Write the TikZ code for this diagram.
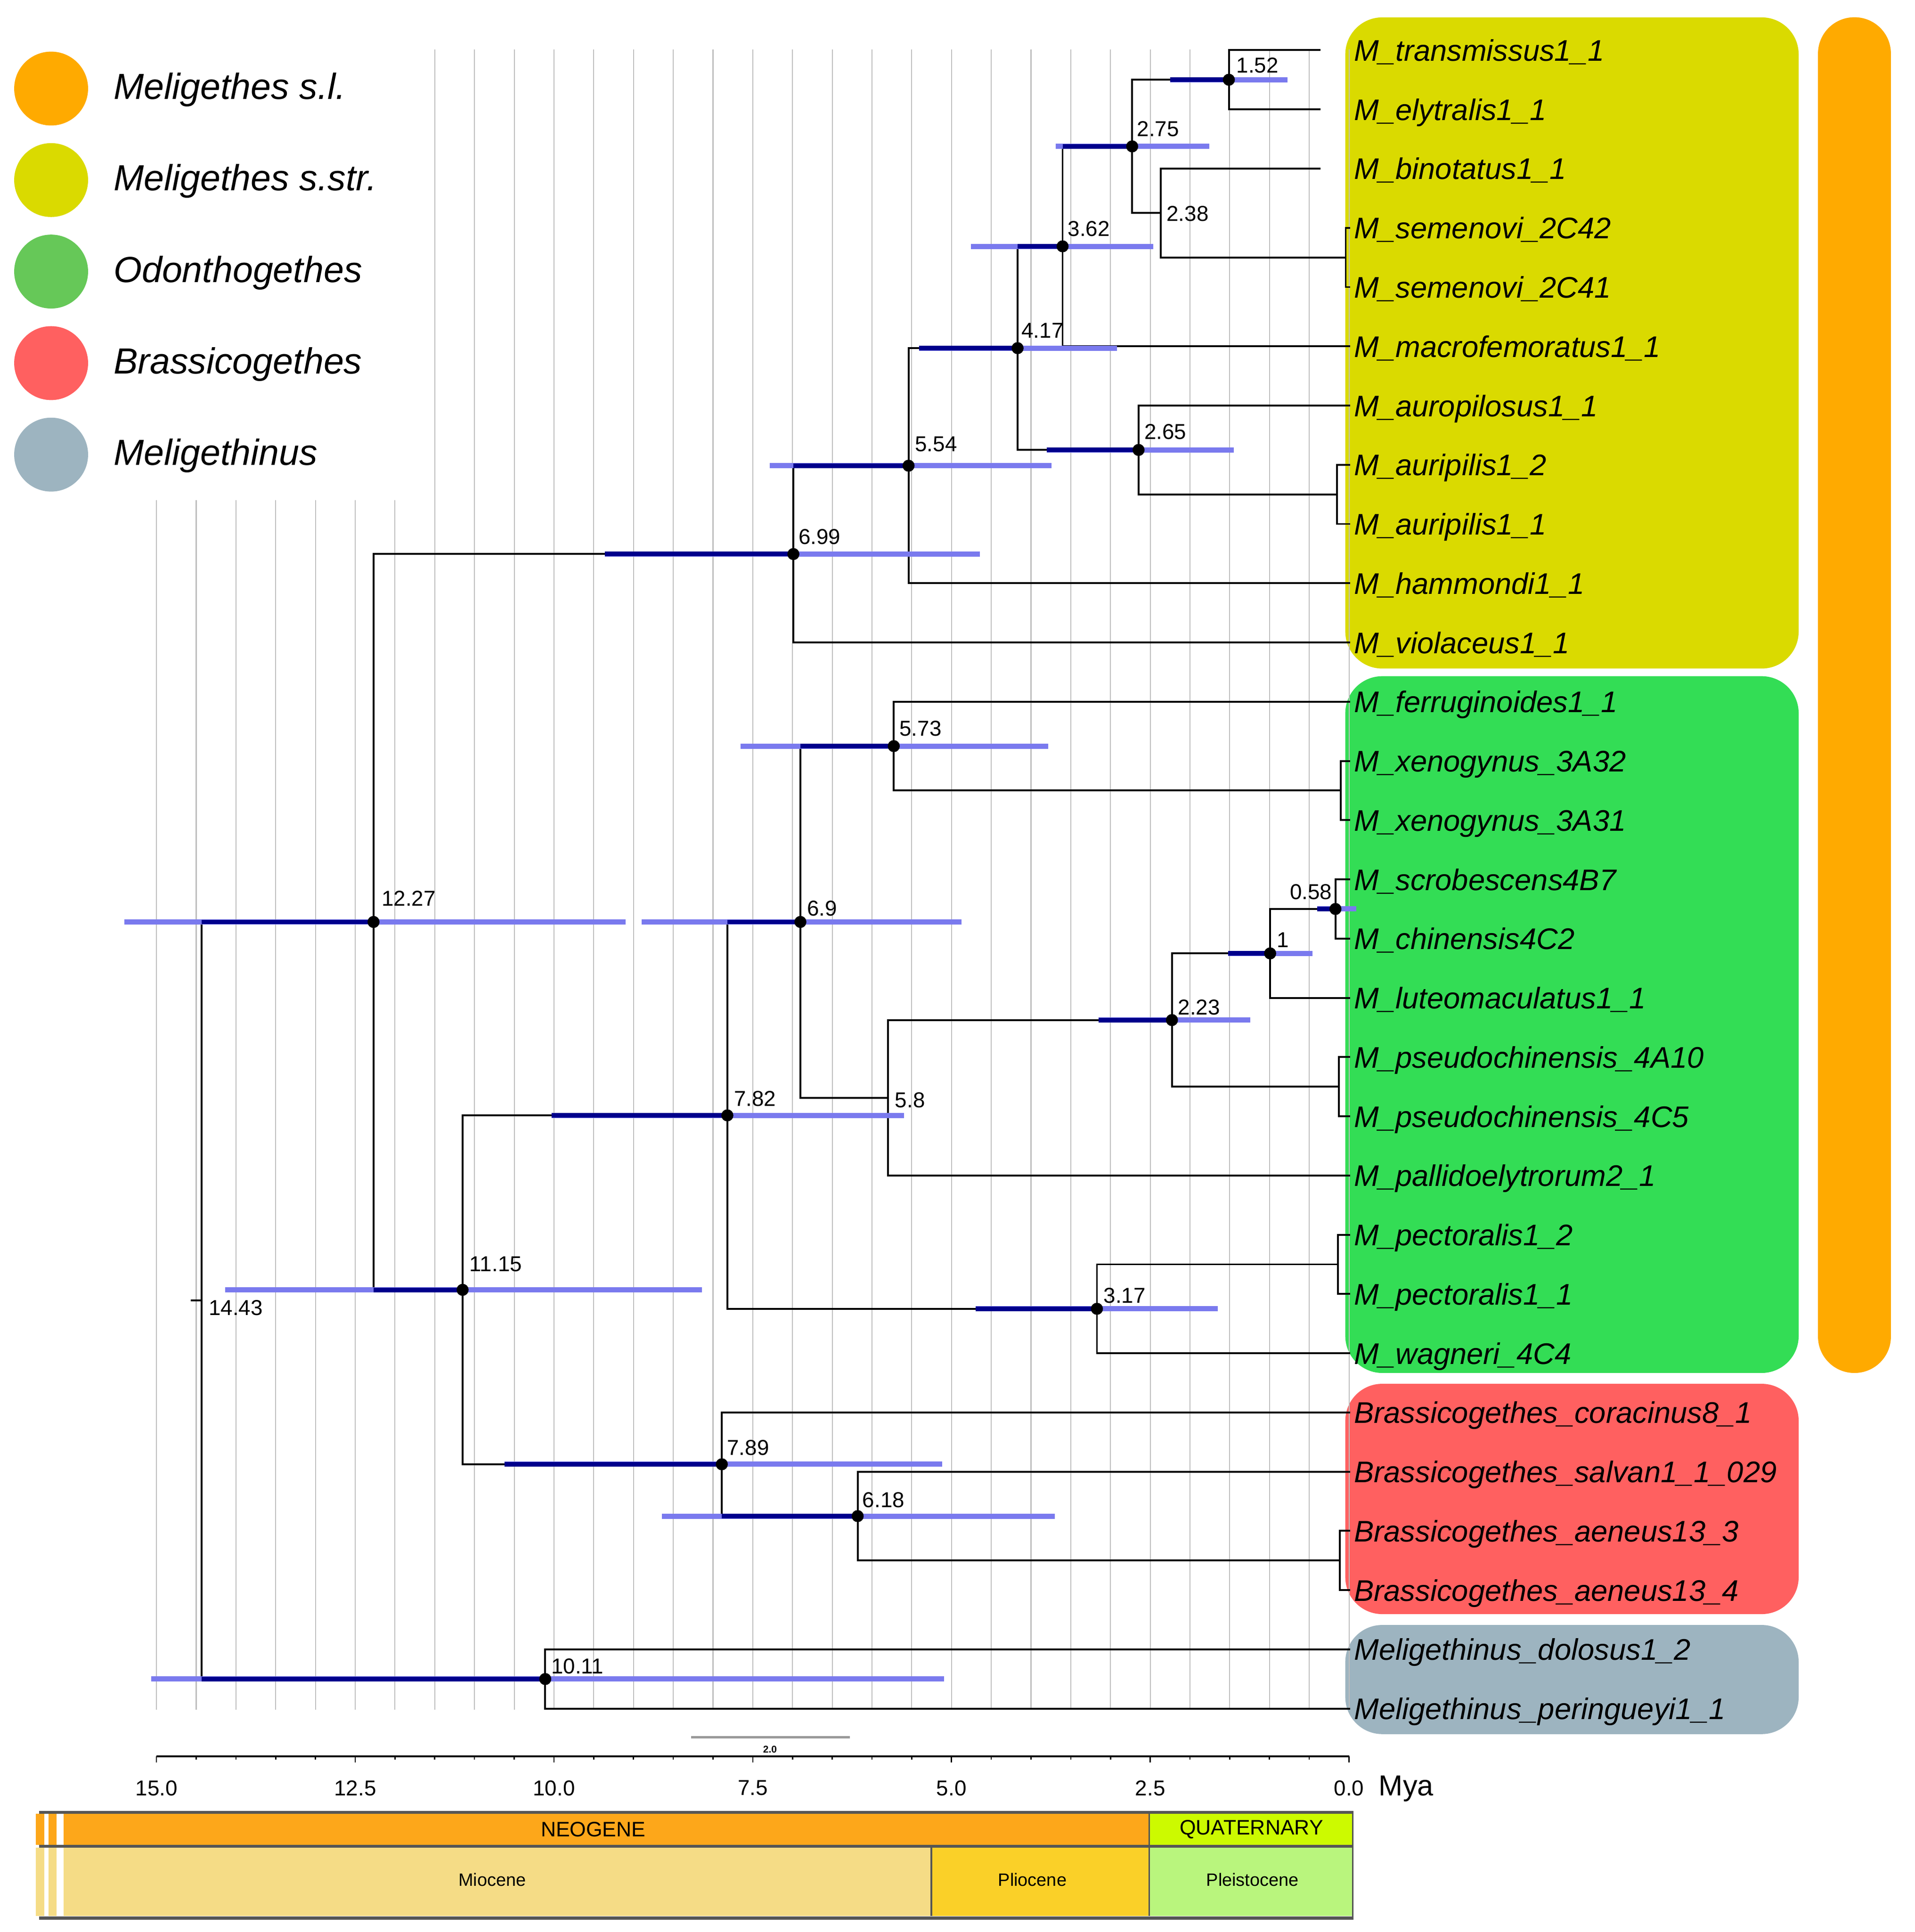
\documentclass[tikz,border=0pt]{standalone}
\usepackage{fontspec}
\setmainfont{Liberation Sans}
\definecolor{legOrange}{RGB}{255,170,0}
\definecolor{legYellow}{RGB}{218,218,0}
\definecolor{legGreen}{RGB}{102,200,88}
\definecolor{legRed}{RGB}{255,96,96}
\definecolor{legGray}{RGB}{157,180,192}
\definecolor{boxGreen}{RGB}{51,221,85}
\definecolor{hpdLight}{RGB}{122,122,238}
\definecolor{hpdDark}{RGB}{0,0,140}
\definecolor{gridGray}{RGB}{190,190,190}
\definecolor{neoC}{RGB}{253,167,26}
\definecolor{quaC}{RGB}{204,250,0}
\definecolor{mioC}{RGB}{245,220,134}
\definecolor{pliC}{RGB}{250,208,40}
\definecolor{pleC}{RGB}{185,245,125}
\definecolor{tsBorder}{RGB}{85,85,85}
\tikzset{
  branch/.style={draw=black, line width=1.5pt},
  hpd/.style={draw=hpdLight, line width=4.2pt},
  hpdin/.style={draw=hpdDark, line width=3.8pt},
  ndot/.style={circle, fill=black, inner sep=0pt, minimum size=9.8pt},
  nlab/.style={font=\fontsize{17.5}{20}\selectfont, inner sep=0pt, anchor=west},
  tiplab/.style={font=\fontsize{24.2}{28}\selectfont\itshape, inner sep=0pt, anchor=base west},
  leglab/.style={font=\fontsize{29.5}{34}\selectfont\itshape, inner sep=0pt, anchor=base west},
  gridline/.style={draw=gridGray, line width=0.8pt},
  cladebox/.style={rounded corners=30pt},
  axlab/.style={font=\fontsize{17.5}{20}\selectfont, inner sep=0pt},
  eralab/.style={font=\fontsize{17}{20}\selectfont, inner sep=0pt},
  epochlab/.style={font=\fontsize{14.5}{17}\selectfont, inner sep=0pt},
}
\begin{document}
\begin{tikzpicture}[x=1pt,y=-1pt]
\useasboundingbox (0,0) rectangle (1554.1,1568.6);
\fill[white] (0,0) rectangle (1554.1,1568.6);

% clade boxes
\fill[legYellow, cladebox] (1092,14.1) rectangle (1460,542.8);
\fill[boxGreen, cladebox] (1092,549) rectangle (1460,1114.7);
\fill[legRed, cladebox] (1092,1123.5) rectangle (1460,1310.5);
\fill[legGray, cladebox] (1092,1319.3) rectangle (1460,1407.9);
\fill[legOrange, rounded corners=29.5pt] (1475.7,14) rectangle (1534.9,1114.7);

% grid
\foreach \k in {0,...,6} {
  \draw[gridline] ({127+32.267*\k},406) -- ({127+32.267*\k},1388);
}
\foreach \k in {7,...,30} {
  \draw[gridline] ({127+32.267*\k},40) -- ({127+32.267*\k},1388);
}

% tips
\foreach \i/\nm/\xe in {
  0/M\_transmissus1\_1/1072, 1/M\_elytralis1\_1/1072, 2/M\_binotatus1\_1/1072,
  3/M\_semenovi\_2C42/1096, 4/M\_semenovi\_2C41/1096, 5/M\_macrofemoratus1\_1/1096,
  6/M\_auropilosus1\_1/1096, 7/M\_auripilis1\_2/1096, 8/M\_auripilis1\_1/1096,
  9/M\_hammondi1\_1/1096, 10/M\_violaceus1\_1/1096, 11/M\_ferruginoides1\_1/1096,
  12/M\_xenogynus\_3A32/1096, 13/M\_xenogynus\_3A31/1096, 14/M\_scrobescens4B7/1096,
  15/M\_chinensis4C2/1096, 16/M\_luteomaculatus1\_1/1096, 17/M\_pseudochinensis\_4A10/1096,
  18/M\_pseudochinensis\_4C5/1096, 19/M\_pallidoelytrorum2\_1/1096, 20/M\_pectoralis1\_2/1096,
  21/M\_pectoralis1\_1/1096, 22/M\_wagneri\_4C4/1096, 23/Brassicogethes\_coracinus8\_1/1096,
  24/Brassicogethes\_salvan1\_1\_029/1096, 25/Brassicogethes\_aeneus13\_3/1096,
  26/Brassicogethes\_aeneus13\_4/1096, 27/Meligethinus\_dolosus1\_2/1096,
  28/Meligethinus\_peringueyi1\_1/1096} {
  \pgfmathsetmacro\yy{40.7+48.09*\i}
  \coordinate (t\i) at (\xe,\yy);
  \node[tiplab] (lab\i) at (1099,\yy+8.8) {\nm};
}

% internal nodes
\coordinate (n152) at (997.5,64.75);
\coordinate (psem) at (1092.3,209.0);
\coordinate (n238) at (942.3,172.94);
\coordinate (n275) at (919,118.85);
\coordinate (n362) at (862.5,200.0);
\coordinate (paur) at (1085.2,401.38);
\coordinate (n265) at (924.2,365.31);
\coordinate (n417) at (826,282.66);
\coordinate (n554) at (737.5,378.09);
\coordinate (n699) at (644,449.85);
\coordinate (pxen) at (1088.3,641.83);
\coordinate (n573) at (725.5,605.76);
\coordinate (n058) at (1084,738.0);
\coordinate (n1) at (1031,774.07);
\coordinate (ppse) at (1086.7,882.28);
\coordinate (n223) at (951.3,828.18);
\coordinate (n58) at (720.7,891.3);
\coordinate (n69) at (649.7,748.53);
\coordinate (ppec) at (1086,1026.55);
\coordinate (n317) at (890.4,1062.6);
\coordinate (n782) at (590.4,905.57);
\coordinate (paen) at (1087.6,1267.0);
\coordinate (n618) at (696.2,1230.93);
\coordinate (n789) at (585.9,1188.85);
\coordinate (n1115) at (375.5,1047.21);
\coordinate (n1227) at (303.2,748.53);
\coordinate (n1011) at (442.6,1363.18);
\coordinate (n1443) at (163.8,1055.86);
\coordinate (root) at (155,1055.86);

% branches
\foreach \p/\c in {n152/t0, n152/t1, n275/n152, n275/n238, n238/t2, n238/psem,
  psem/t3, psem/t4, n362/n275, n362/t5, n417/n362, n417/n265, n265/t6, n265/paur,
  paur/t7, paur/t8, n554/n417, n554/t9, n699/n554, n699/t10, n1227/n699, n1227/n1115,
  n573/t11, n573/pxen, pxen/t12, pxen/t13, n058/t14, n058/t15, n1/n058, n1/t16,
  n223/n1, n223/ppse, ppse/t17, ppse/t18, n58/n223, n58/t19, n69/n573, n69/n58,
  ppec/t20, ppec/t21, n317/ppec, n317/t22, n782/n69, n782/n317, n618/t24, n618/paen,
  paen/t25, paen/t26, n789/t23, n789/n618, n1115/n782, n1115/n789, n1011/t27,
  n1011/t28, n1443/n1227, n1443/n1011} {
  \draw[branch] (\p) |- (\c);
}
\draw[branch] (root) -- (n1443);

% HPD bars: lo/hi/navy start/node x/node y
\foreach \lo/\hi/\ns/\nx/\ny in {
  950/1045/950/997.5/64.75, 857/981.7/862.5/919/118.85, 788/936/826/862.5/200.0,
  746/906.5/746/826/282.66, 849.5/1001.5/849.5/924.2/365.31, 625/853.6/644/737.5/378.09,
  491/795.5/491/644/449.85, 101/508/163.8/303.2/748.53, 182.6/569.8/303.2/375.5/1047.21,
  122.8/766.5/163.8/442.6/1363.18, 447.8/734/447.8/590.4/905.57, 521/780.5/590.4/649.7/748.53,
  601/851/649.7/725.5/605.76, 1069/1101/1069/1084/738.0, 997/1065.5/997/1031/774.07,
  891.8/1014.8/891.8/951.3/828.18, 792/988.5/792/890.4/1062.6, 409.6/764.8/409.6/585.9/1188.85,
  537.4/856.2/585.9/696.2/1230.93} {
  \draw[hpd] (\lo,\ny) -- (\hi,\ny);
  \draw[hpdin] (\ns,\ny) -- (\nx,\ny);
}

% node dots
\foreach \n in {n152,n275,n362,n417,n265,n554,n699,n1227,n573,n058,n1,n223,n69,n317,n782,n618,n789,n1115,n1011} {
  \node[ndot] (d\n) at (\n) {};
}

% node labels
\node[nlab] (l152) at (1003.5,53.2) {1.52};
\node[nlab] (l275) at (922.8,104.7) {2.75};
\node[nlab] (l238) at (946.8,173.4) {2.38};
\node[nlab] (l362) at (866.6,185.6) {3.62};
\node[nlab] (l417) at (829,268.5) {4.17};
\node[nlab] (l265) at (928.7,350.5) {2.65};
\node[nlab] (l554) at (742.6,360.7) {5.54};
\node[nlab] (l699) at (648,435.8) {6.99};
\node[nlab] (l573) at (730,591.5) {5.73};
\node[nlab, anchor=east] (l058) at (1081.4,724) {0.58};
\node[nlab] (l1) at (1036.3,763) {1};
\node[nlab] (l69) at (654.9,737.5) {6.9};
\node[nlab] (l1227) at (309.6,729.3) {12.27};
\node[nlab] (l223) at (956,818) {2.23};
\node[nlab] (l782) at (595.6,892.2) {7.82};
\node[nlab] (l58) at (726.3,893.3) {5.8};
\node[nlab] (l1115) at (381,1026.5) {11.15};
\node[nlab] (l1443) at (169.3,1062) {14.43};
\node[nlab] (l317) at (895.6,1052) {3.17};
\node[nlab] (l789) at (590,1175.3) {7.89};
\node[nlab] (l618) at (699.9,1218) {6.18};
\node[nlab] (l1011) at (447.3,1353) {10.11};

% legend
\foreach \j/\col/\txt in {0/legOrange/Meligethes s.l., 1/legYellow/Meligethes s.str.,
  2/legGreen/Odonthogethes, 3/legRed/Brassicogethes, 4/legGray/Meligethinus} {
  \pgfmathsetmacro\cy{71.9+74.3*\j}
  \fill[\col] (41.5,\cy) circle[radius=30];
  \node[leglab] (leg\j) at (92,\cy+8.6) {\txt};
}

% scale bar
\draw[gray!80, line width=1.8pt] (561,1410.5) -- (690,1410.5);
\node[font=\fontsize{8}{9}\selectfont\bfseries, inner sep=0pt] (sbl) at (625,1420.5) {2.0};

% axis
\draw[black, line width=1.5pt] (127,1426) -- (1095,1426);
\foreach \k in {0,...,30} {
  \draw[black, line width=1pt] ({127+32.267*\k},1426) -- ({127+32.267*\k},1428.5);
}
\foreach \k/\lab in {0/15.0, 5/12.5, 10/10.0, 15/7.5, 20/5.0, 25/2.5, 30/0.0} {
  \draw[black, line width=1pt] ({127+32.267*\k},1426) -- ({127+32.267*\k},1431);
  \node[axlab] (ax\k) at ({127+32.267*\k},1451.7) {\lab};
}
\node[font=\fontsize{23.5}{26}\selectfont, inner sep=0pt, anchor=base west] (mya) at (1119,1458) {Mya};

% timescale
\fill[neoC] (29,1472.6) rectangle (933,1498);
\fill[quaC] (933,1472.6) rectangle (1098.6,1498);
\fill[mioC] (29,1500) rectangle (756,1555.7);
\fill[pliC] (756,1500) rectangle (933,1555.7);
\fill[pleC] (933,1500) rectangle (1098.6,1555.7);
\fill[white] (36,1472.6) rectangle (39.5,1555.7);
\fill[white] (45.9,1472.6) rectangle (51.6,1555.7);
\draw[tsBorder, line width=2.2pt] (31.6,1471.5) -- (1098.6,1471.5);
\draw[tsBorder, line width=2pt] (31.6,1499) -- (1098.6,1499);
\draw[tsBorder, line width=3pt] (31.6,1557.3) -- (1098.6,1557.3);
\draw[tsBorder, line width=1.2pt] (933,1472.6) -- (933,1555.7);
\draw[tsBorder, line width=1.2pt] (756,1500) -- (756,1555.7);
\draw[tsBorder, line width=1.2pt] (1098,1470.4) -- (1098,1558.8);
\node[eralab] (neo) at (481.5,1485.3) {NEOGENE};
\node[eralab] (qua) at (1015.8,1485.3) {QUATERNARY};
\node[epochlab] (mio) at (399.6,1526) {Miocene};
\node[epochlab] (pli) at (838,1526) {Pliocene};
\node[epochlab] (ple) at (1016.7,1526) {Pleistocene};
\end{tikzpicture}
\end{document}
